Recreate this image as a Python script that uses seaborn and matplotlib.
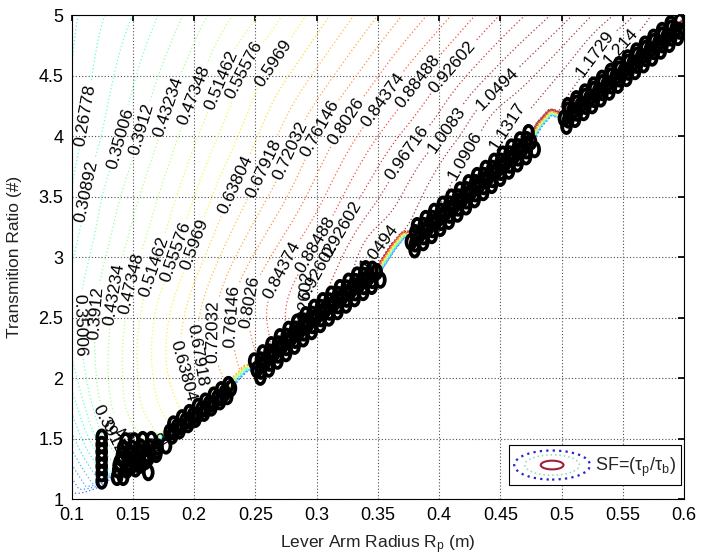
import numpy as np
import matplotlib
matplotlib.use("Agg")
import matplotlib.pyplot as plt
import seaborn as sns
from matplotlib.path import Path
from matplotlib.transforms import Affine2D
from matplotlib.patches import Ellipse
from matplotlib.legend_handler import HandlerBase

# ---- contour levels of SF (as printed on the labels) ----
levels = [0.02094, 0.06208, 0.10322, 0.14436, 0.18550, 0.22664, 0.26778, 0.30892,
          0.35006, 0.39120, 0.43234, 0.47348, 0.51462, 0.55576, 0.59690, 0.63804,
          0.67918, 0.72032, 0.76146, 0.80260, 0.84374, 0.88488, 0.92602, 0.96716,
          1.00830, 1.04944, 1.09058, 1.13172, 1.17286, 1.21400]

# ---- contour label positions (Rp, ratio) and their level ----
lab_x = [0.1111, 0.1117, 0.1397, 0.107, 0.1574, 0.120, 0.1792, 0.1345, 0.1997, 0.1485,
         0.2225, 0.167, 0.2402, 0.185, 0.2647, 0.200, 0.2334, 0.191, 0.2566, 0.2025,
         0.2784, 0.2157, 0.3029, 0.2307, 0.3238, 0.2449, 0.3546, 0.2715, 0.3824, 0.299,
         0.411, 0.321, 0.3737, 0.4064, 0.4472, 0.3505, 0.4213, 0.4554, 0.5275, 0.548,
         0.130]
lab_y = [4.17, 3.54, 3.98, 2.44, 4.06, 2.54, 4.24, 2.69, 4.34, 2.78,
         4.46, 2.92, 4.545, 3.04, 4.60, 3.10, 3.595, 2.06, 3.73, 2.19,
         3.88, 2.38, 4.06, 2.51, 4.12, 2.63, 4.30, 2.89, 4.45, 3.10,
         4.57, 3.23, 3.86, 4.05, 4.39, 3.085, 3.84, 4.09, 4.68, 4.74,
         1.57]
lab_v = [0.26778, 0.30892, 0.35006, 0.35006, 0.39120, 0.39120, 0.43234, 0.43234, 0.47348, 0.47348,
         0.51462, 0.51462, 0.55576, 0.55576, 0.59690, 0.59690, 0.63804, 0.63804, 0.67918, 0.67918,
         0.72032, 0.72032, 0.76146, 0.76146, 0.80260, 0.80260, 0.84374, 0.84374, 0.88488, 0.88488,
         0.92602, 0.92602, 0.96716, 1.00830, 1.04944, 1.04944, 1.09058, 1.13172, 1.17286, 1.21400,
         0.39120]
# labels mostly hidden under the markers
hid_x = [0.292, 0.306, 0.145, 0.156]
hid_y = [2.62, 2.86, 1.45, 1.38]

# ---- extra SF readings: left edge, top edge, along the optimal band ----
edge_x = [0.10, 0.10, 0.10, 0.10, 0.10, 0.10, 0.10, 0.10, 0.10, 0.10, 0.10, 0.10, 0.10,
          0.15, 0.20, 0.25, 0.30, 0.35, 0.40, 0.45, 0.50, 0.55, 0.60,
          0.155, 0.19, 0.205, 0.23, 0.25, 0.27, 0.30, 0.33, 0.37, 0.40, 0.44, 0.47, 0.50, 0.53, 0.56, 0.59,
          0.12, 0.15, 0.175]
edge_y = [1.00, 1.25, 1.50, 1.75, 2.00, 2.25, 2.50, 2.75, 3.00, 3.50, 4.00, 4.50, 5.00,
          5.00, 5.00, 5.00, 5.00, 5.00, 5.00, 5.00, 5.00, 5.00, 5.00,
          1.58, 1.74, 1.84, 2.02, 2.19, 2.38, 2.64, 2.88, 3.20, 3.42, 3.76, 4.02, 4.28, 4.52, 4.74, 4.98,
          1.90, 2.00, 2.20]
edge_v = [0.00, 0.09, 0.17, 0.235, 0.285, 0.318, 0.333, 0.322, 0.303, 0.27, 0.245, 0.228, 0.215,
          0.31, 0.41, 0.51, 0.615, 0.72, 0.823, 0.927, 1.028, 1.149, 1.27,
          0.48, 0.60, 0.645, 0.74, 0.80, 0.87, 0.95, 1.01, 1.05, 1.09, 1.12, 1.14, 1.17, 1.20, 1.23, 1.26,
          0.385, 0.50, 0.59]

# ---- lower edge of the SF field (optimal design path) ----
bnd_x = [0.100, 0.120, 0.135, 0.150, 0.165, 0.179, 0.230, 0.236, 0.244, 0.252, 0.300, 0.352,
         0.364, 0.372, 0.382, 0.430, 0.476, 0.484, 0.492, 0.500, 0.550, 0.600]
bnd_y = [1.00, 1.08, 1.18, 1.28, 1.40, 1.53, 1.89, 1.98, 2.06, 2.06, 2.49, 2.87,
         3.06, 3.16, 3.16, 3.55, 3.94, 4.08, 4.17, 4.14, 4.51, 4.91]

# ---- black circle data points (optimal designs) ----
col_x = [0.1245, 0.1245, 0.1245, 0.1245, 0.1245, 0.1245, 0.1245]
col_y = [1.15, 1.21, 1.27, 1.33, 1.39, 1.45, 1.51]
clu_x = [0.137, 0.142, 0.138, 0.145, 0.152, 0.139, 0.146, 0.153, 0.160, 0.141, 0.148, 0.155,
         0.162, 0.169, 0.142, 0.149, 0.156, 0.163, 0.170, 0.177, 0.144, 0.151, 0.158, 0.165,
         0.1415, 0.1485, 0.1555, 0.1625, 0.1695, 0.1485, 0.1555, 0.1625]
clu_y = [1.18, 1.18, 1.24, 1.24, 1.25, 1.30, 1.30, 1.31, 1.31, 1.36, 1.36, 1.37,
         1.37, 1.37, 1.42, 1.42, 1.43, 1.43, 1.43, 1.44, 1.48, 1.48, 1.49, 1.49,
         1.33, 1.33, 1.34, 1.34, 1.40, 1.27, 1.28, 1.22]
s2_x = [0.180, 0.186, 0.193, 0.199, 0.206, 0.212, 0.219, 0.225, 0.230,
        0.183, 0.190, 0.196, 0.203, 0.209, 0.216, 0.222, 0.228,
        0.182, 0.188, 0.195, 0.201, 0.208, 0.214, 0.221, 0.227,
        0.1835, 0.1895, 0.1965, 0.2025, 0.2095, 0.2155, 0.2225]
s2_y = [1.552, 1.595, 1.646, 1.690, 1.741, 1.784, 1.835, 1.878, 1.915,
        1.619, 1.670, 1.713, 1.764, 1.808, 1.858, 1.902, 1.945,
        1.522, 1.565, 1.616, 1.660, 1.710, 1.754, 1.805, 1.848,
        1.556, 1.599, 1.650, 1.693, 1.744, 1.788, 1.838]
sc_x = [0.251, 0.258, 0.265, 0.272, 0.279, 0.286, 0.293, 0.300, 0.307, 0.314, 0.321, 0.328, 0.335, 0.342, 0.349,
        0.249, 0.256, 0.263, 0.270, 0.277, 0.284, 0.291, 0.298, 0.305, 0.312, 0.319, 0.326, 0.333, 0.340,
        0.254, 0.261, 0.268, 0.275, 0.282, 0.289, 0.296, 0.303, 0.310, 0.317, 0.324, 0.331, 0.338, 0.345, 0.352,
        0.2545, 0.2615, 0.2685, 0.2755, 0.2825, 0.2895, 0.2965, 0.3035, 0.3105, 0.3175, 0.3245, 0.3315, 0.3385, 0.3455,
        0.2545, 0.2615, 0.2685, 0.2755, 0.2825, 0.2895, 0.2965, 0.3035, 0.3105, 0.3175, 0.3245, 0.3315, 0.3385, 0.3455]
sc_y = [2.070, 2.136, 2.203, 2.267, 2.328, 2.389, 2.449, 2.510, 2.564, 2.617, 2.671, 2.725, 2.776, 2.827, 2.878,
        2.140, 2.207, 2.274, 2.340, 2.401, 2.461, 2.522, 2.583, 2.638, 2.692, 2.746, 2.799, 2.850, 2.902,
        2.008, 2.075, 2.141, 2.203, 2.264, 2.325, 2.385, 2.443, 2.497, 2.550, 2.604, 2.657, 2.708, 2.759, 2.810,
        2.148, 2.214, 2.281, 2.343, 2.403, 2.464, 2.525, 2.582, 2.636, 2.689, 2.743, 2.796, 2.847, 2.898,
        2.058, 2.124, 2.191, 2.253, 2.313, 2.374, 2.435, 2.492, 2.546, 2.599, 2.653, 2.706, 2.757, 2.808]
sd_x = [0.377, 0.384, 0.391, 0.398, 0.405, 0.412, 0.419, 0.426, 0.433, 0.440, 0.447, 0.454, 0.461, 0.468, 0.475,
        0.382, 0.389, 0.396, 0.403, 0.410, 0.417, 0.424, 0.431, 0.438, 0.445, 0.452, 0.459, 0.466, 0.473,
        0.380, 0.387, 0.394, 0.401, 0.408, 0.415, 0.422, 0.429, 0.436, 0.443, 0.450, 0.457, 0.464, 0.471, 0.478,
        0.3805, 0.3875, 0.3945, 0.4015, 0.4085, 0.4155, 0.4225, 0.4295, 0.4365, 0.4435, 0.4505, 0.4575, 0.4645, 0.4715,
        0.3805, 0.3875, 0.3945, 0.4015, 0.4085, 0.4155, 0.4225, 0.4295, 0.4365, 0.4435, 0.4505, 0.4575, 0.4645, 0.4715]
sd_y = [3.125, 3.185, 3.244, 3.303, 3.362, 3.421, 3.480, 3.539, 3.599, 3.658, 3.717, 3.776, 3.835, 3.894, 3.953,
        3.258, 3.317, 3.376, 3.435, 3.494, 3.553, 3.613, 3.672, 3.731, 3.790, 3.849, 3.908, 3.967, 4.027,
        3.061, 3.120, 3.179, 3.238, 3.297, 3.356, 3.416, 3.475, 3.534, 3.593, 3.652, 3.711, 3.771, 3.830, 3.889,
        3.200, 3.259, 3.318, 3.377, 3.437, 3.496, 3.555, 3.614, 3.673, 3.732, 3.791, 3.851, 3.910, 3.969,
        3.110, 3.169, 3.228, 3.287, 3.347, 3.406, 3.465, 3.524, 3.583, 3.642, 3.701, 3.761, 3.820, 3.879]
se_x = [0.502, 0.509, 0.516, 0.523, 0.530, 0.537, 0.544, 0.551, 0.558, 0.565, 0.572, 0.579, 0.586, 0.593,
        0.505, 0.512, 0.519, 0.526, 0.533, 0.540, 0.547, 0.554, 0.561, 0.568, 0.575, 0.582, 0.589,
        0.504, 0.511, 0.518, 0.525, 0.532, 0.539, 0.546, 0.553, 0.560, 0.567, 0.574, 0.581, 0.588, 0.595,
        0.5055, 0.5125, 0.5195, 0.5265, 0.5335, 0.5405, 0.5475, 0.5545, 0.5615, 0.5685, 0.5755, 0.5825, 0.5895, 0.5965,
        0.5055, 0.5125, 0.5195, 0.5265, 0.5335, 0.5405, 0.5475, 0.5545, 0.5615, 0.5685, 0.5755, 0.5825, 0.5895, 0.5965]
se_y = [4.146, 4.203, 4.259, 4.315, 4.372, 4.428, 4.485, 4.541, 4.597, 4.654, 4.710, 4.767, 4.823, 4.880,
        4.250, 4.307, 4.363, 4.420, 4.476, 4.532, 4.589, 4.645, 4.702, 4.758, 4.815, 4.871, 4.927,
        4.082, 4.139, 4.195, 4.252, 4.308, 4.364, 4.421, 4.477, 4.534, 4.590, 4.646, 4.703, 4.759, 4.816,
        4.214, 4.271, 4.327, 4.384, 4.440, 4.496, 4.553, 4.609, 4.666, 4.722, 4.779, 4.835, 4.891, 4.948,
        4.134, 4.191, 4.247, 4.304, 4.360, 4.416, 4.473, 4.529, 4.586, 4.642, 4.699, 4.755, 4.811, 4.868]

xticks = [0.1, 0.15, 0.2, 0.25, 0.3, 0.35, 0.4, 0.45, 0.5, 0.55, 0.6]
xtick_labels = ["0.1", "0.15", "0.2", "0.25", "0.3", "0.35", "0.4", "0.45", "0.5", "0.55", "0.6"]
yticks = [1, 1.5, 2, 2.5, 3, 3.5, 4, 4.5, 5]
ytick_labels = ["1", "1.5", "2", "2.5", "3", "3.5", "4", "4.5", "5"]

sns.set_theme(style="white")
plt.rcParams["font.family"] = ["Liberation Sans", "DejaVu Sans"]
plt.rcParams["mathtext.fontset"] = "custom"
plt.rcParams["mathtext.rm"] = "Liberation Sans"
plt.rcParams["mathtext.it"] = "Liberation Sans"
plt.rcParams["lines.dotted_pattern"] = [1.0, 1.9]

# ---- smooth SF surface through the read values (thin plate spline) ----
ax_all = np.array(lab_x + edge_x)
ay_all = np.array(lab_y + edge_y)
av_all = np.array(lab_v + edge_v)
su, sv = 12.24, 1.21          # data -> hundreds of pixels
u = (ax_all - 0.1) * su
v = (ay_all - 1.0) * sv
n = len(u)
r = np.hypot(u[:, None] - u[None, :], v[:, None] - v[None, :])
K = np.where(r > 0, r ** 2 * np.log(np.maximum(r, 1e-12)), 0.0)
P = np.column_stack([np.ones(n), u, v])
A = np.zeros((n + 3, n + 3))
A[:n, :n] = K + 0.004 * np.eye(n)
A[:n, n:] = P
A[n:, :n] = P.T
sol = np.linalg.solve(A, np.concatenate([av_all, np.zeros(3)]))
w, coef = sol[:n], sol[n:]

gx = np.linspace(0.1, 0.6, 620)
gy = np.linspace(1.0, 5.0, 490)
X, Y = np.meshgrid(gx, gy)
U = (X - 0.1) * su
V = (Y - 1.0) * sv
Z = coef[0] + coef[1] * U + coef[2] * V
for ui, vi, wi in zip(u, v, w):
    rr = np.hypot(U - ui, V - vi)
    Z += wi * np.where(rr > 0, rr ** 2 * np.log(np.maximum(rr, 1e-12)), 0.0)

# field drops to zero below the design path (px distance ramp)
PX, PY = U * 100, V * 100
bx = (np.array(bnd_x) - 0.1) * su * 100
by = (np.array(bnd_y) - 1.0) * sv * 100
dist = np.full(X.shape, np.inf)
for i in range(len(bx) - 1):
    dx, dy = bx[i + 1] - bx[i], by[i + 1] - by[i]
    t = np.clip(((PX - bx[i]) * dx + (PY - by[i]) * dy) / (dx * dx + dy * dy), 0, 1)
    dist = np.minimum(dist, np.hypot(PX - bx[i] - t * dx, PY - by[i] - t * dy))
above = Y > np.interp(X, bnd_x, bnd_y)
SF = Z * np.where(above, np.clip(dist / 6.5, 0, 1), 0.0)

# ---- figure ----
fig = plt.figure(figsize=(7.01, 5.59), dpi=100)
ax = fig.add_axes([0.1023, 0.1073, 0.8735, 0.8658])

cmap = matplotlib.colormaps["jet"]
norm = matplotlib.colors.Normalize(-0.22, 1.02)
line_colors = []
for lv in levels:
    c = np.array(cmap(norm(lv)))
    c[:3] = c[:3] * 0.76 + 0.24
    line_colors.append(tuple(c))

cs = ax.contour(X, Y, SF, levels=levels, colors=line_colors, linewidths=0.9,
                linestyles="dotted")
ax.clabel(cs, levels=levels, manual=list(zip(lab_x + hid_x, lab_y + hid_y)),
          inline=True, inline_spacing=3, fmt=lambda val: f"{val:.5g}",
          fontsize=12.5, colors="black")

mx = col_x + clu_x + s2_x + sc_x + sd_x + se_x
my = col_y + clu_y + s2_y + sc_y + sd_y + se_y
oval = Affine2D().scale(0.64, 1.0).transform_path(Path.unit_circle())
sns.scatterplot(x=mx, y=my, marker=oval, s=100, facecolors="none",
                edgecolor="black", linewidth=2.7, ax=ax, zorder=5, legend=False)

ax.set_xlim(0.1, 0.6)
ax.set_ylim(1, 5)
ax.set_xticks(xticks)
ax.set_xticklabels(xtick_labels)
ax.set_yticks(yticks)
ax.set_yticklabels(ytick_labels)
ax.tick_params(direction="in", top=True, right=True, length=4, labelsize=13,
               colors="black", pad=6)
ax.grid(True, linestyle=":", color="0.3", linewidth=0.8)
for sp in ax.spines.values():
    sp.set_color("black")
    sp.set_linewidth(0.8)

ax.set_xlabel("Lever Arm Radius R$_\\mathrm{p}$ (m)", fontsize=12.5, color="#222222")
ax.set_ylabel("Transmition Ratio (#)", fontsize=12.5, color="#222222")
ax.xaxis.set_label_coords(0.5, -0.072)
ax.yaxis.set_label_coords(-0.082, 0.5)


class SFIcon:
    pass


class SFHandler(HandlerBase):
    def create_artists(self, legend, orig_handle, xdescent, ydescent, width,
                       height, fontsize, trans):
        cx, cy = width / 2 - xdescent, height / 2 - ydescent
        outer = Ellipse((cx, cy), width, height, fill=False, ec="#2323c8",
                        lw=1.6, ls=":", transform=trans)
        mid = Ellipse((cx, cy), width * 0.72, height * 0.7, fill=False,
                      ec="#8fd8b8", lw=1.1, ls=":", transform=trans)
        inner = Ellipse((cx, cy), width * 0.3, height * 0.3, fill=False,
                        ec="#a0203c", lw=1.5, transform=trans)
        return [outer, mid, inner]


leg = ax.legend([SFIcon()], ["SF=(τ$_\\mathrm{p}$/τ$_\\mathrm{b}$)"],
                handler_map={SFIcon: SFHandler()}, loc="lower right",
                bbox_to_anchor=(0.995, 0.029), borderaxespad=0, fontsize=13,
                handlelength=4.2, handleheight=2.1, handletextpad=0.25,
                borderpad=0.3, frameon=True, fancybox=False,
                edgecolor="black", framealpha=1)
leg.get_frame().set_linewidth(0.8)
leg.set_zorder(10)

fig.savefig("out.png", dpi=100)
